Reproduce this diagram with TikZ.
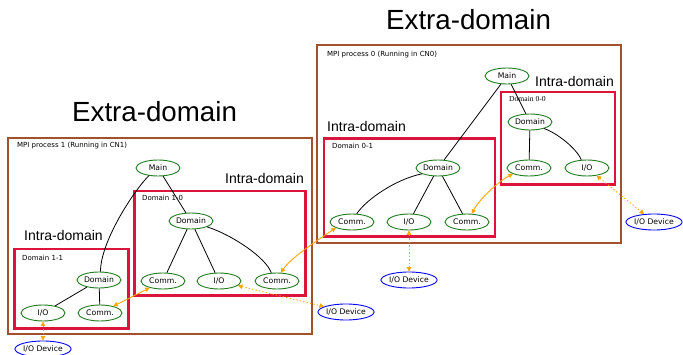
\documentclass[tikz,border=0pt]{standalone}
\usepackage{fontspec}
\setmainfont{DejaVu Sans}
\newfontfamily\headfont{Liberation Sans}
\newfontfamily\oddserif{Liberation Serif}
\usetikzlibrary{shapes.geometric,arrows.meta}

\definecolor{procbrown}{HTML}{A0522D}
\definecolor{domred}{HTML}{DC143C}
\definecolor{nodegreen}{HTML}{1E7B1E}
\definecolor{msgorange}{HTML}{FFA500}

\begin{document}
\begin{tikzpicture}[x=1pt,y=-1pt,
  procbox/.style={draw=procbrown,line width=2.2pt},
  dombox/.style={draw=domred,line width=2.6pt},
  task/.style={ellipse,draw=nodegreen,line width=0.9pt,fill=white,
    minimum width=44pt,minimum height=16pt,inner sep=0pt,
    font=\fontsize{7.7}{9}\selectfont},
  device/.style={ellipse,draw=blue,line width=0.9pt,fill=white,
    minimum width=56pt,minimum height=16pt,inner sep=0pt,
    font=\fontsize{7.7}{9}\selectfont},
  tree/.style={draw=black,line width=0.8pt},
  msg/.style={draw=msgorange,line width=0.9pt,
    {Triangle[length=4.5pt,width=4.5pt]}-{Triangle[length=4.5pt,width=4.5pt]}},
  iolink/.style={msg,dash pattern=on 1.3pt off 2.2pt},
  caption/.style={anchor=base west,inner sep=0pt,font=\fontsize{7}{8}\selectfont},
  bigtitle/.style={anchor=base west,inner sep=0pt,font=\headfont\fontsize{27.7}{30}\selectfont},
  midtitle/.style={anchor=base west,inner sep=0pt,font=\headfont\fontsize{14}{16}\selectfont},
]
\useasboundingbox (0,0) rectangle (683,355);

% process frames
\draw[procbox] (8.3,138.3) rectangle (311.7,334);
\draw[procbox] (317.3,45.3) rectangle (621,242.7);

% domain frames
\draw[dombox] (14.3,249) rectangle (128.7,328.7);
\draw[dombox] (134.3,191) rectangle (305.3,295.7);
\draw[dombox] (324,138.3) rectangle (495,236.7);
\draw[dombox] (501,92) rectangle (615,184.3);

% headings
\node[bigtitle] (xd1) at (72,122) {Extra-domain};
\node[bigtitle] (xd0) at (386,29.5) {Extra-domain};
\node[midtitle] (id10) at (225,184) {Intra-domain};
\node[midtitle] (id11) at (24,241) {Intra-domain};
\node[midtitle] (id01) at (327,132) {Intra-domain};
\node[midtitle] (id00) at (535,87) {Intra-domain};

% frame captions
\node[caption] (p1) at (17,147.5) {MPI process 1 (Running in CN1)};
\node[caption] (p0) at (327,56.5) {MPI process 0 (Running in CN0)};
\node[caption] (l11) at (22,260.5) {Domain 1-1};
\node[caption] (l10) at (142,200.5) {Domain 1-0};
\node[caption] (l01) at (332,148.5) {Domain 0-1};
\node[caption,font=\oddserif\fontsize{7.6}{9}\selectfont] (l00) at (509,101.5) {Domain 0-0};

% process 1 tasks
\node[task] (main1) at (158,168) {Main};
\node[task] (d10) at (191,221) {Domain};
\node[task] (c10l) at (163,281) {Comm.};
\node[task] (io10) at (219,281) {I/O};
\node[task] (c10r) at (277,281) {Comm.};
\node[task] (d11) at (99,280) {Domain};
\node[task] (io11) at (43,313) {I/O};
\node[task] (c11) at (100,313) {Comm.};

% process 0 tasks
\node[task] (main0) at (507,76) {Main};
\node[task] (d00) at (530,122) {Domain};
\node[task] (c00) at (529,168) {Comm.};
\node[task] (io00) at (587,168) {I/O};
\node[task] (d01) at (438,168) {Domain};
\node[task] (c01l) at (352,222) {Comm.};
\node[task] (io01) at (409,222) {I/O};
\node[task] (c01r) at (467,222) {Comm.};

% devices
\node[device] (devl) at (43,349) {I/O Device};
\node[device] (devm) at (346,312) {I/O Device};
\node[device] (devb) at (409,280) {I/O Device};
\node[device] (devr) at (654,222) {I/O Device};

% task hierarchy, process 1
\draw[tree] (main1) -- (d10);
\draw[tree] (main1.220) .. controls +(-15,15) and +(0,-30) .. (d11.80);
\draw[tree] (d10) -- (c10l);
\draw[tree] (d10) -- (io10);
\draw[tree] (d10.-20) .. controls +(25,8) and +(-5,-15) .. (c10r.125);
\draw[tree] (d11) -- (io11);
\draw[tree] (d11) -- (c11);

% task hierarchy, process 0
\draw[tree] (main0) -- (d00);
\draw[tree] (main0) -- (d01);
\draw[tree] (d00) -- (c00);
\draw[tree] (d00.-25) .. controls +(12,4) and +(-5,-12) .. (io00.125);
\draw[tree] (d01.200) .. controls +(-25,5) and +(10,-15) .. (c01l.60);
\draw[tree] (d01) -- (io01);
\draw[tree] (d01) -- (c01r);

% communication between domains
\draw[msg] (c11) -- (c10l);
\draw[msg] (c10r.65) .. controls +(10,-15) and +(-15,10) .. (c01l.200);
\draw[msg] (c01r.60) .. controls +(8,-15) and +(-15,8) .. (c00.200);

% device access
\draw[iolink] (io11) -- (devl);
\draw[iolink] (io10) -- (devm);
\draw[iolink] (io01) -- (devb);
\draw[iolink] (io00) -- (devr);
\end{tikzpicture}
\end{document}
